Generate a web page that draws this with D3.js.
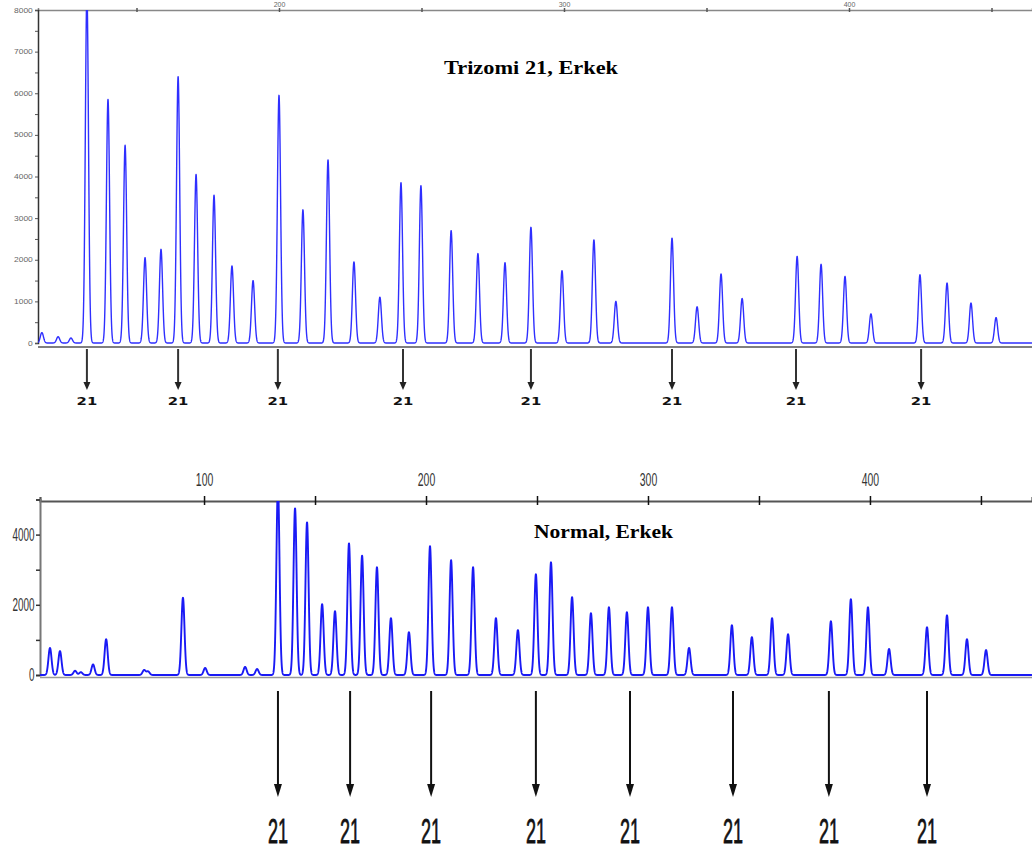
<!DOCTYPE html>
<html>
<head>
<meta charset="utf-8">
<script src="https://cdn.jsdelivr.net/npm/d3@7"></script>
<style>
  body { margin: 0; background: #fff; }
  svg { display: block; }
</style>
</head>
<body>
<svg id="chart" width="1032" height="852"></svg>
<script>
// peak sizes (bp) and heights (RFU)
var topSizes = [116.8, 122.5, 127.0, 132.6, 140.0, 146.0, 153.0, 158.6, 164.6, 170.9, 177.2, 183.5, 190.9,
  200.0, 208.4, 217.2, 226.3, 235.4, 242.8, 249.8, 260.4, 269.8, 279.3, 288.4, 299.3, 310.5, 318.2,
  337.9, 346.7, 355.1, 362.5, 381.8, 390.2, 398.6, 407.7, 424.9, 434.4, 442.8, 451.6];
var topHeights = [250, 150, 120, 8400, 5850, 4750, 2050, 2250, 6400, 4050, 3550, 1850, 1500,
  5950, 3200, 4400, 1950, 1100, 3850, 3780, 2700, 2150, 1930, 2780, 1740, 2480, 1000,
  2520, 870, 1660, 1070, 2080, 1890, 1600, 700, 1640, 1440, 960, 610];

var botSizes = [30.6, 35.1, 41.9, 44.5, 50.0, 55.9, 73.0, 74.8, 90.5, 100.5, 118.5, 123.9,
  133.3, 141.0, 146.4, 153.2, 159.0, 165.3, 171.2, 177.9, 184.2, 192.3, 201.8, 211.3, 221.2,
  231.5, 241.4, 249.5, 256.3, 265.8, 274.3, 282.4, 290.5, 300.0, 310.8, 318.5, 337.8, 346.8,
  355.9, 363.1, 382.4, 391.4, 399.1, 408.6, 425.7, 434.7, 443.7, 452.3];
var botHeights = [770, 680, 120, 80, 300, 1020, 140, 100, 2200, 200, 230, 170,
  5400, 4750, 4350, 2020, 1820, 3750, 3400, 3070, 1620, 1220, 3670, 3270, 3070,
  1620, 1280, 2870, 3210, 2220, 1760, 1930, 1790, 1930, 1930, 770, 1420, 1080,
  1620, 1160, 1530, 2160, 1930, 740, 1360, 1700, 1020, 710];

var topArrows = [132.6, 164.6, 199.6, 243.5, 288.4, 337.9, 381.4, 425.3];
var botArrows = [133.3, 165.8, 202.3, 249.5, 291.9, 338.3, 381.5, 425.7];

var topTitle = "Trizomi 21, Erkek",
    botTitle = "Normal, Erkek",
    arrowLabel = "21";

var svg = d3.select("#chart");

// build a trace from the peak list (each peak drawn as a narrow gaussian)
function trace(sizes, heights, domain, sigma) {
  var pts = [];
  for (var x = domain[0]; x <= domain[1]; x += 0.04) {
    var y = 0;
    for (var i = 0; i < sizes.length; i++) {
      var d = x - sizes[i];
      if (Math.abs(d) < sigma * 6) y += heights[i] * Math.exp(-d * d / (2 * sigma * sigma));
    }
    pts.push([x, y]);
  }
  return pts;
}

var defs = svg.append("defs");

// ---------------- top panel ----------------
var xT = d3.scaleLinear().domain([115.44, 464.21]).range([38, 1032]),
    yT = d3.scaleLinear().domain([0, 8000]).range([343, 10]);

defs.append("clipPath").attr("id", "clipT").append("rect")
  .attr("x", 38).attr("y", 10).attr("width", 994).attr("height", 337);

var topG = svg.append("g");

topG.append("g")
  .attr("transform", "translate(0,10)")
  .call(d3.axisTop(xT).tickValues([150, 200, 250, 300, 350, 400, 450]).tickSize(2)
    .tickFormat(function(d){ return d % 100 === 0 ? d : ""; }))
  .call(function(g){
    g.select(".domain").attr("stroke", "#888").attr("stroke-width", 1.5);
    g.selectAll(".tick line").attr("stroke", "#555").attr("stroke-width", 1.5).attr("y2", 2).attr("y1", -2);
    g.selectAll(".tick text").attr("y", -3).attr("fill", "#666")
      .style("font", "7px 'Liberation Sans', sans-serif");
  });

topG.append("g")
  .attr("transform", "translate(38,0)")
  .call(d3.axisLeft(yT).tickValues(d3.range(0, 8001, 500)).tickSize(3)
    .tickFormat(function(d){ return d % 1000 === 0 ? d : ""; }))
  .call(function(g){
    g.select(".domain").attr("stroke", "#333").attr("stroke-width", 1.5);
    g.selectAll(".tick line").attr("stroke", "#555");
    g.selectAll(".tick text").attr("x", -4).attr("fill", "#666")
      .attr("transform", "scale(1.3,1)")
      .style("font", "6.5px 'Liberation Sans', sans-serif");
  });

topG.append("line")
  .attr("x1", 38).attr("x2", 1032).attr("y1", 347).attr("y2", 347)
  .attr("stroke", "#555").attr("stroke-width", 1.6);

topG.append("path")
  .datum(trace(topSizes, topHeights, xT.domain(), 0.55))
  .attr("clip-path", "url(#clipT)")
  .attr("fill", "none")
  .attr("stroke", "#2f2fff")
  .attr("stroke-width", 1.4)
  .attr("stroke-linejoin", "round")
  .attr("d", d3.line().x(function(d){ return xT(d[0]); }).y(function(d){ return yT(d[1]); }));

topG.append("text")
  .attr("x", 531).attr("y", 74)
  .attr("text-anchor", "middle")
  .attr("textLength", 174).attr("lengthAdjust", "spacingAndGlyphs")
  .style("font", "bold 18px 'Liberation Serif', serif")
  .text(topTitle);

var tA = topG.selectAll(".tarrow").data(topArrows).enter().append("g")
  .attr("transform", function(d){ return "translate(" + xT(d) + ",0)"; });
tA.append("line").attr("y1", 349).attr("y2", 384)
  .attr("stroke", "#333").attr("stroke-width", 2);
tA.append("path").attr("d", "M-3.5,382L3.5,382L0,390Z").attr("fill", "#222");
tA.append("text")
  .attr("y", 405).attr("text-anchor", "middle")
  .attr("transform", "scale(1.35,1)")
  .style("font", "bold 11px 'DejaVu Sans', sans-serif")
  .attr("fill", "#111")
  .text(arrowLabel);

// ---------------- bottom panel ----------------
var xB = d3.scaleLinear().domain([26.1, 473.0]).range([40, 1032]),
    yB = d3.scaleLinear().domain([0, 5000]).range([675, 499.5]);

defs.append("clipPath").attr("id", "clipB").append("rect")
  .attr("x", 40).attr("y", 501).attr("width", 992).attr("height", 176);

var botG = svg.append("g");

botG.append("line")
  .attr("x1", 40).attr("x2", 1032).attr("y1", 677.5).attr("y2", 677.5)
  .attr("stroke", "#999").attr("stroke-width", 1.5);

botG.append("g")
  .attr("transform", "translate(0,501)")
  .call(d3.axisTop(xB).tickValues([100, 150, 200, 250, 300, 350, 400, 450]).tickSize(4)
    .tickFormat(function(d){ return d % 100 === 0 ? d : ""; }))
  .call(function(g){
    g.select(".domain").attr("stroke", "#555").attr("stroke-width", 2.2);
    g.selectAll(".tick line").attr("stroke", "#111").attr("stroke-width", 1.5).attr("y1", 4).attr("y2", -5);
    g.selectAll(".tick text").attr("y", -15).attr("fill", "#333")
      .attr("transform", "scale(0.55,1)")
      .style("font", "19px 'Liberation Sans', sans-serif");
  });

botG.append("g")
  .attr("transform", "translate(40,0)")
  .call(d3.axisLeft(yB).tickValues([0, 1000, 2000, 3000, 4000, 5000]).tickSize(4)
    .tickFormat(function(d){ return d % 2000 === 0 && d < 5000 ? d : ""; }))
  .call(function(g){
    g.select(".domain").attr("stroke", "#777").attr("stroke-width", 2);
    g.selectAll(".tick line").attr("stroke", "#333").attr("stroke-width", 1.5);
    g.selectAll(".tick text").attr("x", -10).attr("fill", "#333")
      .attr("transform", "scale(0.55,1)")
      .style("font", "18px 'Liberation Sans', sans-serif");
  });

botG.append("path")
  .datum(trace(botSizes, botHeights, xB.domain(), 0.7))
  .attr("clip-path", "url(#clipB)")
  .attr("fill", "none")
  .attr("stroke", "#1a1af5")
  .attr("stroke-width", 1.9)
  .attr("stroke-linejoin", "round")
  .attr("d", d3.line().x(function(d){ return xB(d[0]); }).y(function(d){ return yB(d[1]); }));

botG.append("text")
  .attr("x", 603.5).attr("y", 538)
  .attr("text-anchor", "middle")
  .attr("textLength", 139).attr("lengthAdjust", "spacingAndGlyphs")
  .style("font", "bold 19px 'Liberation Serif', serif")
  .text(botTitle);

var bA = botG.selectAll(".barrow").data(botArrows).enter().append("g")
  .attr("transform", function(d){ return "translate(" + xB(d) + ",0)"; });
bA.append("line").attr("y1", 691).attr("y2", 788)
  .attr("stroke", "#111").attr("stroke-width", 2);
bA.append("path").attr("d", "M-4,784L4,784L0,797Z").attr("fill", "#111");
bA.append("text")
  .attr("y", 843).attr("text-anchor", "middle")
  .attr("transform", "scale(0.5,1)")
  .style("font", "36px 'Liberation Sans', sans-serif")
  .style("stroke", "#111").style("stroke-width", 0.8)
  .attr("fill", "#111")
  .text(arrowLabel);
</script>
</body>
</html>
